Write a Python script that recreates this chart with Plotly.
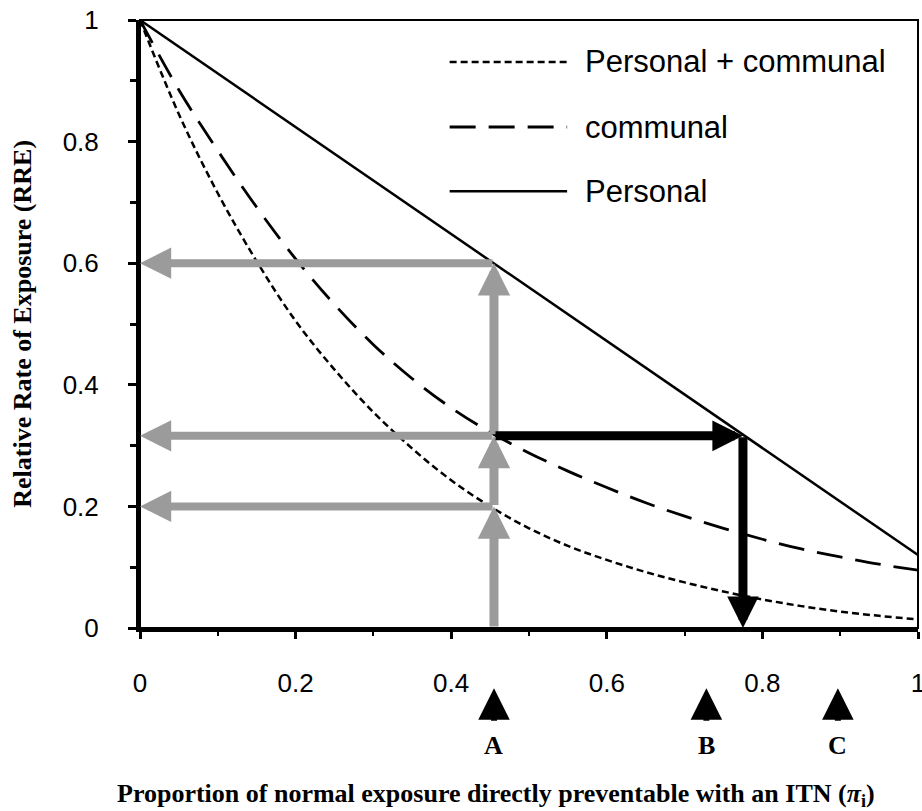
import plotly.graph_objects as go

# Proportion of normal exposure preventable with an ITN (pi_i)
pi_grid = [0.00, 0.05, 0.10, 0.15, 0.20, 0.25, 0.30, 0.35, 0.40, 0.45, 0.50,
           0.55, 0.60, 0.65, 0.70, 0.75, 0.80, 0.85, 0.90, 0.95, 1.00]

# Relative rate of exposure (RRE) for each protection mode
rre_personal_communal = [1.000, 0.845, 0.715, 0.603, 0.505, 0.425, 0.355, 0.295, 0.243, 0.200, 0.164,
                         0.135, 0.112, 0.092, 0.075, 0.060, 0.047, 0.036, 0.027, 0.020, 0.014]
rre_communal = [1.000, 0.885, 0.785, 0.692, 0.607, 0.532, 0.466, 0.410, 0.362, 0.322, 0.288,
                0.258, 0.231, 0.206, 0.184, 0.164, 0.146, 0.130, 0.117, 0.105, 0.095]
pi_personal = [0.0, 1.0]
rre_personal = [1.0, 0.12]

# Worked example: coverage at site A and the RRE
pi_site_a = 0.455
rre_at_a = [0.2, 0.316, 0.6]          # personal+communal, communal, personal
pi_equivalent = 0.775                  # personal-only coverage giving the communal RRE

# Site markers under the x axis
site_pi = [0.455, 0.728, 0.897]
site_labels = ["A", "B", "C"]

x_ticks = [0, 0.2, 0.4, 0.6, 0.8, 1.0]
x_ticktext = ["0", "0.2", "0.4", "0.6", "0.8", "1"]
y_ticks = [0, 0.2, 0.4, 0.6, 0.8, 1.0]
y_ticktext = ["0", "0.2", "0.4", "0.6", "0.8", "1"]

series_names = ["Personal + communal", "communal", "Personal"]
series_dash = ["7px,4px", "26px,13px", "solid"]
series_width = [2.5, 2.8, 2.5]

SANS = "Liberation Sans, Arial, sans-serif"
SERIF = "Liberation Serif, Times New Roman, serif"
GREY = "#9b9b9b"

fig = go.Figure()

fig.add_trace(go.Scatter(x=pi_grid, y=rre_personal_communal, mode="lines", line_shape="spline",
                         name=series_names[0],
                         line=dict(color="black", width=series_width[0], dash=series_dash[0])))
fig.add_trace(go.Scatter(x=pi_grid, y=rre_communal, mode="lines", line_shape="spline",
                         name=series_names[1],
                         line=dict(color="black", width=series_width[1], dash=series_dash[1])))
fig.add_trace(go.Scatter(x=pi_personal, y=rre_personal, mode="lines",
                         name=series_names[2],
                         line=dict(color="black", width=series_width[2], dash=series_dash[2])))

annotations = []


def arrow(x0, y0, x1, y1, color, width, size):
    annotations.append(dict(x=x1, y=y1, ax=x0, ay=y0, xref="x", yref="y", axref="x", ayref="y",
                            text="", showarrow=True, arrowhead=2, arrowsize=size,
                            arrowwidth=width, arrowcolor=color, standoff=0))


# Grey: rise from site A to each curve, then read across to the RRE axis
levels = [0.0] + rre_at_a
for lo, hi in zip(levels[:-1], levels[1:]):
    arrow(pi_site_a, lo, pi_site_a, hi, GREY, 9, 0.72)
for lvl in rre_at_a:
    arrow(pi_site_a, lvl, 0.0, lvl, GREY, 8, 0.78)

# Black: personal-only coverage needed to match communal RRE at A
arrow(pi_site_a, rre_at_a[1], pi_equivalent, rre_at_a[1], "black", 9, 0.68)
arrow(pi_equivalent, rre_at_a[1], pi_equivalent, 0.0, "black", 9, 0.7)

# Site pointers A, B, C beneath the axis (positioned relative to the plot area)
for sx, lab in zip(site_pi, site_labels):
    annotations.append(dict(x=sx, y=-0.099, xref="x", yref="paper", ax=0, ay=34,
                            text="", showarrow=True, arrowhead=2, arrowsize=1.05,
                            arrowwidth=6, arrowcolor="black", standoff=0))
    annotations.append(dict(x=sx, y=-0.193, xref="x", yref="paper", text=f"<b>{lab}</b>",
                            showarrow=False, xanchor="center", yanchor="middle",
                            font=dict(family=SERIF, size=26, color="black")))

# Legend drawn as long line samples with labels
shapes = [dict(type="rect", xref="paper", yref="paper", x0=0, x1=1, y0=0, y1=1,
               line=dict(color="black", width=2), layer="below")]
legend_rows = [0.931, 0.824, 0.7185]
for name, dash, w, yy in zip(series_names, series_dash, series_width, legend_rows):
    shapes.append(dict(type="line", xref="paper", yref="paper", x0=0.398, x1=0.549, y0=yy, y1=yy,
                       line=dict(color="black", width=w, dash=dash)))
    annotations.append(dict(x=0.570, y=yy, xref="paper", yref="paper", text=name, showarrow=False,
                            xanchor="left", yanchor="middle",
                            font=dict(family=SANS, size=31, color="black")))

# Axis titles
annotations.append(dict(x=0.4576, y=-0.275, xref="paper", yref="paper", showarrow=False,
                        xanchor="center", yanchor="middle",
                        text="<b>Proportion of normal exposure directly preventable with an ITN (<i>π</i><sub>i</sub>)</b>",
                        font=dict(family=SERIF, size=26, color="black")))
annotations.append(dict(x=-0.152, y=0.5, xref="paper", yref="paper", showarrow=False,
                        xanchor="center", yanchor="middle", textangle=-90,
                        text="<b>Relative Rate of Exposure (RRE)</b>",
                        font=dict(family=SERIF, size=26, color="black")))

fig.update_layout(
    width=922, height=811,
    margin=dict(l=140, r=4, t=20, b=183, autoexpand=False),
    paper_bgcolor="white", plot_bgcolor="white",
    showlegend=False,
    shapes=shapes,
    annotations=annotations,
    xaxis=dict(range=[0, 1], tickvals=x_ticks, ticktext=x_ticktext, automargin=False,
               showgrid=False, zeroline=False, showline=True, linecolor="black", linewidth=4,
               ticks="outside", ticklen=7, tickwidth=2.5, tickcolor="black",
               minor=dict(dtick=0.1, ticks="outside", ticklen=4, tickwidth=2, tickcolor="black"),
               ticklabelstandoff=22, ticklabeloverflow="allow",
               tickfont=dict(family=SANS, size=26, color="black")),
    yaxis=dict(range=[0, 1], tickvals=y_ticks, ticktext=y_ticktext, automargin=False,
               showgrid=False, zeroline=False, showline=True, linecolor="black", linewidth=4,
               ticks="outside", ticklen=8, tickwidth=3, tickcolor="black",
               minor=dict(dtick=0.1, ticks="outside", ticklen=6, tickwidth=2.5, tickcolor="black"),
               ticklabelstandoff=24, ticklabeloverflow="allow",
               tickfont=dict(family=SANS, size=26, color="black")),
)

fig.write_html("out.html")
